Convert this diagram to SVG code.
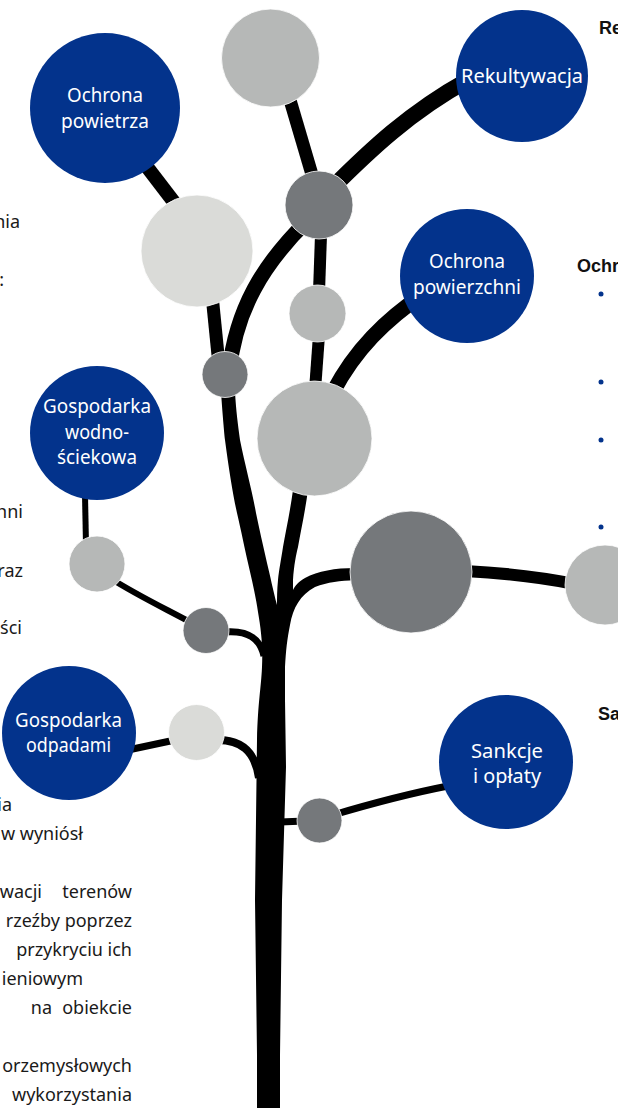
<svg xmlns="http://www.w3.org/2000/svg" width="618" height="1108" viewBox="0 0 618 1108">
<style>
.blue{fill:#03338c}
.dk{fill:#75787b;stroke:#fff;stroke-width:0.8}
.md{fill:#b6b8b7;stroke:#fff;stroke-width:0.8}
.lt{fill:#dadbd8;stroke:#fff;stroke-width:0.8}
.lbl{font-family:"Noto Sans","Open Sans",sans-serif;font-size:20px;fill:#fff;text-anchor:middle}
.body{font-family:"Noto Sans","Open Sans",sans-serif;font-size:18px;fill:#1a1a1a;text-anchor:end}
.hd{font-family:"Liberation Sans",Arial,sans-serif;font-weight:bold;font-size:18px;fill:#111}
.br{fill:none;stroke:#000;stroke-linecap:butt}
.dot{fill:#03338c}
</style>
<rect width="618" height="1108" fill="#fff"/>

<g id="connectors">
  <path id="trunk" fill="#000" d="M 221 392 C 223 420 224 430 225 440 C 229 470 233 495 237 513 C 241 530 245 550 248 563 C 252 580 256 598 258 612 C 261 630 263 645 262 667 C 261 690 258 700 257 740 L 255 900 L 257 1055 L 257 1108 L 280 1108 L 280 1055 L 282 900 L 286 767 L 285 700 L 285 667 C 286 650 287 640 290 625 C 293 608 300 595 315 587 C 328 582 340 581 355 580 L 355 568 C 335 568 318 571 305 578 C 298 582 295 586 293 590 L 293 580 C 294 565 296 555 298 547 C 301 530 305 512 308 490 L 293 490 C 290 512 286 530 283 547 C 281 560 279 570 278 580 C 277 590 277 598 277 605 C 273 590 270 575 267 563 C 263 545 259 528 256 513 C 252 490 245 465 240 440 C 238 425 236 410 235 392 Z"/>
  <path class="br" stroke-width="13" d="M 212 295 L 219 365"/>
  <path class="br" stroke-width="15" d="M 229 372 C 236 310 262 265 308 220"/>
  <path class="br" stroke-width="14" d="M 144 163 L 180 210"/>
  <path class="br" stroke-width="13" d="M 290 100 L 313 178"/>
  <path class="br" stroke-width="16" d="M 330 190 C 370 150 410 112 468 80"/>
  <path class="br" stroke-width="12" d="M 321 235 L 319 292"/>
  <path class="br" stroke-width="12" d="M 319 335 L 315 390"/>
  <path class="br" stroke-width="15" d="M 425 293 C 385 320 355 350 333 392"/>
  <path class="br" stroke-width="12" d="M 465 571 C 505 573 540 577 575 584"/>
  <path class="br" stroke-width="6" d="M 85 495 L 86 545"/>
  <path class="br" stroke-width="6" d="M 110 578 C 135 594 160 606 190 622"/>
  <path class="br" stroke-width="7" d="M 224 632 C 248 630 260 638 264 656"/>
  <path class="br" stroke-width="7" d="M 128 750 L 175 740"/>
  <path class="br" stroke-width="8" d="M 218 740 C 240 740 255 750 259 778"/>
  <path class="br" stroke-width="7" d="M 280 822 L 305 821"/>
  <path class="br" stroke-width="7" d="M 333 815 C 370 804 402 795 448 786"/>
</g>

<g id="n-gray-top"><circle class="md" cx="270.5" cy="58" r="49"/></g>
<g id="n-dark-1"><circle class="dk" cx="319" cy="205" r="34"/></g>
<g id="n-light-1"><circle class="lt" cx="197" cy="251" r="56"/></g>
<g id="n-gray-small"><circle class="md" cx="317.5" cy="313.5" r="28.5"/></g>
<g id="n-dark-2"><circle class="dk" cx="225" cy="374.5" r="23"/></g>
<g id="n-gray-big"><circle class="md" cx="314.5" cy="438.5" r="57.5"/></g>
<g id="n-dark-big"><circle class="dk" cx="411" cy="572" r="61"/></g>
<g id="n-gray-right"><circle class="md" cx="605" cy="585" r="40"/></g>
<g id="n-gray-left"><circle class="md" cx="97" cy="564" r="28"/></g>
<g id="n-dark-3"><circle class="dk" cx="206" cy="630.5" r="23"/></g>
<g id="n-light-2"><circle class="lt" cx="196.5" cy="732.5" r="28"/></g>
<g id="n-dark-4"><circle class="dk" cx="319.5" cy="820.5" r="22.5"/></g>

<g id="n-ochrona-powietrza">
  <circle class="blue" cx="105" cy="108" r="75"/>
  <text class="lbl" x="105" y="102" textLength="76" lengthAdjust="spacingAndGlyphs">Ochrona</text>
  <text class="lbl" x="105" y="128" textLength="88" lengthAdjust="spacingAndGlyphs">powietrza</text>
</g>
<g id="n-rekultywacja">
  <circle class="blue" cx="522" cy="76" r="66"/>
  <text class="lbl" x="522" y="83" textLength="122" lengthAdjust="spacingAndGlyphs">Rekultywacja</text>
</g>
<g id="n-ochrona-powierzchni">
  <circle class="blue" cx="467" cy="276" r="67"/>
  <text class="lbl" x="467" y="268" textLength="76" lengthAdjust="spacingAndGlyphs">Ochrona</text>
  <text class="lbl" x="467" y="294" textLength="108" lengthAdjust="spacingAndGlyphs">powierzchni</text>
</g>
<g id="n-gospodarka-wodno">
  <circle class="blue" cx="97" cy="433" r="67"/>
  <text class="lbl" x="97" y="413" textLength="108" lengthAdjust="spacingAndGlyphs">Gospodarka</text>
  <text class="lbl" x="97" y="439" textLength="64" lengthAdjust="spacingAndGlyphs">wodno-</text>
  <text class="lbl" x="97" y="464" textLength="80" lengthAdjust="spacingAndGlyphs">ściekowa</text>
</g>
<g id="n-gospodarka-odpadami">
  <circle class="blue" cx="69" cy="733" r="67"/>
  <text class="lbl" x="68.5" y="727" textLength="107" lengthAdjust="spacingAndGlyphs">Gospodarka</text>
  <text class="lbl" x="68.5" y="752" textLength="85" lengthAdjust="spacingAndGlyphs">odpadami</text>
</g>
<g id="n-sankcje">
  <circle class="blue" cx="506" cy="762" r="67"/>
  <text class="lbl" x="507" y="758" textLength="72" lengthAdjust="spacingAndGlyphs">Sankcje</text>
  <text class="lbl" x="507" y="783" textLength="68" lengthAdjust="spacingAndGlyphs">i opłaty</text>
</g>

<g id="side-text">
  <text class="body" x="20" y="228">nia</text>
  <text class="body" x="4" y="286">:</text>
  <text class="body" x="23" y="518">nni</text>
  <text class="body" x="23" y="577">raz</text>
  <text class="body" x="22" y="634">ści</text>
  <text class="body" x="12" y="811">ia</text>
  <text class="body" x="83" y="840">w wyniósł</text>
  <text class="body" x="42" y="898">wacji</text>
  <text class="body" x="132" y="898">terenów</text>
  <text class="body" x="132" y="927">rzeźby poprzez</text>
  <text class="body" x="132" y="956">przykryciu ich</text>
  <text class="body" x="83" y="985">ieniowym</text>
  <text class="body" x="52" y="1014">na</text>
  <text class="body" x="132" y="1014">obiekcie</text>
  <text class="body" x="132" y="1072">orzemysłowych</text>
  <text class="body" x="132" y="1101">wykorzystania</text>
  <text class="hd" x="599" y="34">Re</text>
  <text class="hd" x="577" y="272">Ochr</text>
  <text class="hd" x="598" y="720">Sa</text>
  <circle class="dot" cx="601" cy="294" r="2.5"/>
  <circle class="dot" cx="601" cy="382" r="2.5"/>
  <circle class="dot" cx="601" cy="440" r="2.5"/>
  <circle class="dot" cx="601" cy="527" r="2.5"/>
</g>
</svg>
